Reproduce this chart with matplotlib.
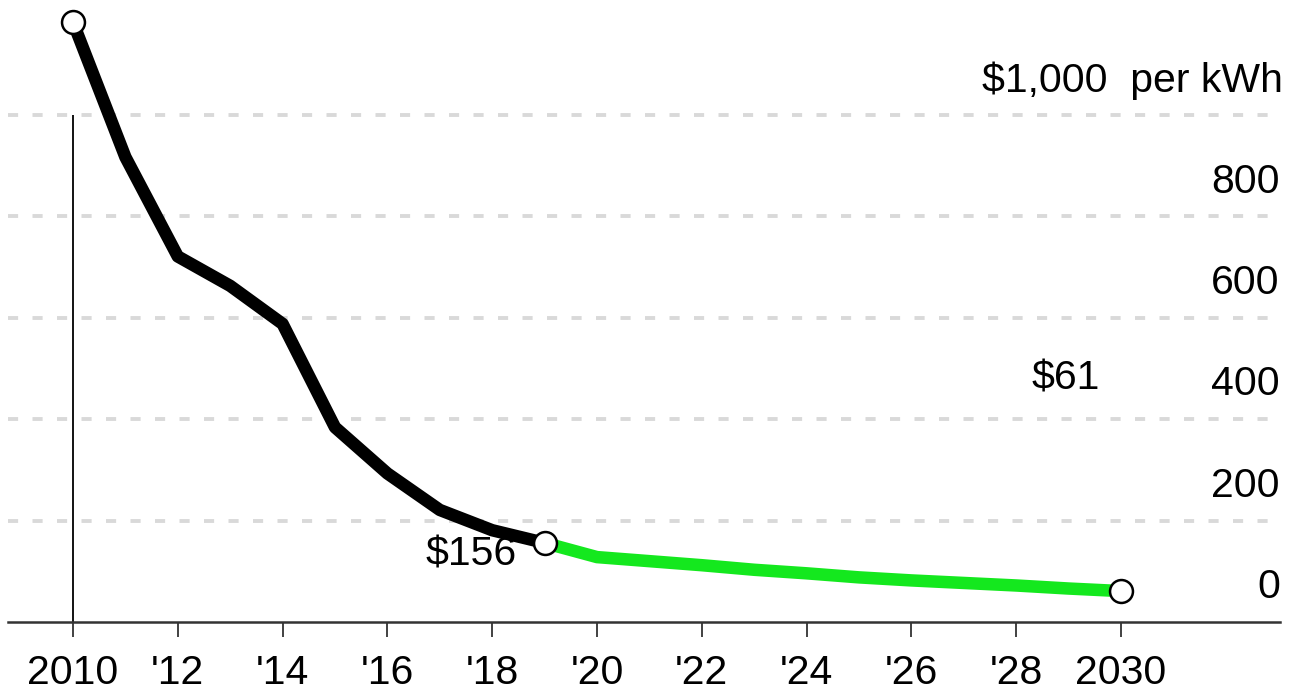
import numpy as np
import matplotlib
matplotlib.use("Agg")
import matplotlib.pyplot as plt

plt.rcParams['font.family'] = ['Liberation Sans', 'DejaVu Sans']

# observed pack prices ($/kWh)
hist_years = [2010, 2011, 2012, 2013, 2014, 2015, 2016, 2017, 2018, 2019]
hist_price = [1183, 917, 721, 663, 588, 384, 293, 221, 181, 156]

# projection
proj_years = [2019, 2020, 2021, 2022, 2023, 2024, 2025, 2026, 2027, 2028, 2029, 2030]
proj_price = [156, 128, 120, 112, 103, 96, 88, 82, 77, 72, 66, 61]

grid_vals = [200, 400, 600, 800, 1000]
label_vals = [0, 200, 400, 600, 800, 1000]
tick_years = list(range(2010, 2031, 2))
tick_labels = ['2010', "'12", "'14", "'16", "'18", "'20", "'22", "'24", "'26", "'28", '2030']

fs = 29.5
fig = plt.figure(figsize=(12.98, 6.95), dpi=100)
ax = fig.add_axes([0, 0, 1, 1])
ax.set_xlim(2008.607, 2033.378)
ax.set_ylim(-144, 1226.8)

# dashed gridlines
ax.hlines(grid_vals, 2008.76, 2032.84, colors='#d9d9d9', lw=2.8,
          linestyles=(0, (2.6, 3.7)), zorder=1)

# vertical line at start year
ax.vlines(hist_years[0], 0, 1000, colors='black', lw=1.3, zorder=2)

# lines
ax.plot(hist_years, hist_price, color='black', lw=9, solid_joinstyle='round', zorder=3)
ax.plot(proj_years, proj_price, color='#14e81e', lw=9, zorder=3)

# open markers
ax.plot([hist_years[0], hist_years[-1], proj_years[-1]],
        [hist_price[0], hist_price[-1], proj_price[-1]],
        ls='none', marker='o', ms=16.5, mfc='white', mec='black', mew=1.8, zorder=5)

# spines / ticks
for s in ['top', 'left', 'right']:
    ax.spines[s].set_visible(False)
ax.spines['bottom'].set_position(('data', 0))
ax.spines['bottom'].set_bounds(2008.76, 2033.03)
ax.spines['bottom'].set_color('#333333')
ax.spines['bottom'].set_linewidth(1.8)
ax.set_yticks([])
ax.set_xticks(tick_years)
ax.set_xticklabels(tick_labels, fontsize=fs)
ax.tick_params(axis='x', direction='out', length=11, width=1.3, color='#333333', pad=12)

# y labels on the right, sitting above the gridlines
for v in label_vals:
    txt = '$1,000  per kWh' if v == 1000 else f'{v:,}'
    ax.annotate(txt, xy=(2033.03, v), xytext=(2 if v == 1000 else 0, 25),
                textcoords='offset points', ha='right', va='center', fontsize=fs)

# value labels
ax.annotate(f'${hist_price[-1]}', xy=(hist_years[-1], hist_price[-1]), xytext=(-20, -8),
            textcoords='offset points', ha='right', va='center', fontsize=fs)
ax.annotate(f'${proj_price[-1]}', xy=(proj_years[-1], proj_price[-1]), xytext=(-40, 153),
            textcoords='offset points', ha='center', va='center', fontsize=fs)

fig.savefig('out.png', dpi=100)
